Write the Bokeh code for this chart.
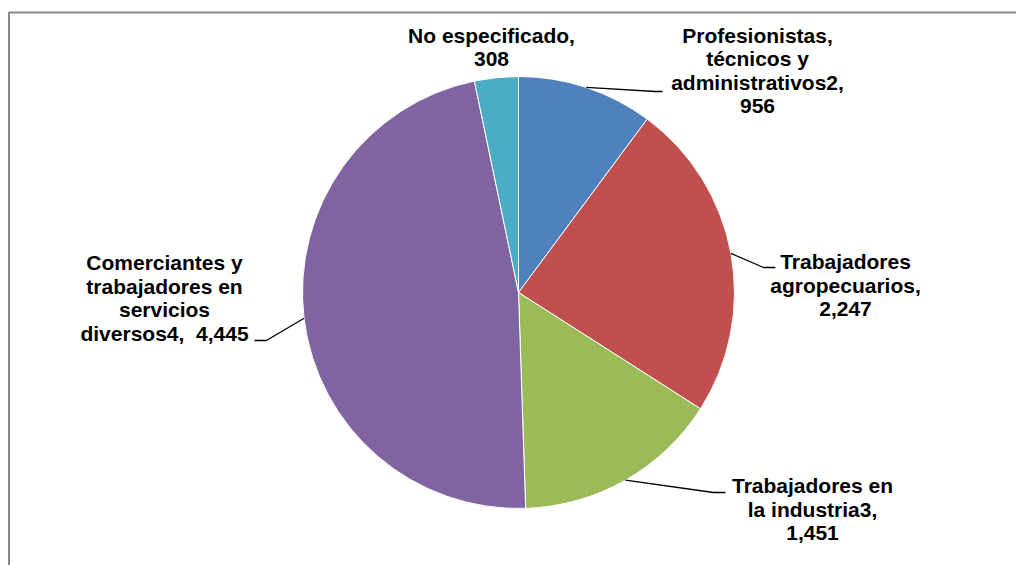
import math
from bokeh.plotting import figure
from bokeh.models import Range1d, ColumnDataSource
from bokeh.core.properties import value
from bokeh.embed import file_html
from bokeh.resources import INLINE

# ---- data ----
categories = [
    "Profesionistas, técnicos y administrativos2",
    "Trabajadores agropecuarios",
    "Trabajadores en la industria3",
    "Comerciantes y trabajadores en servicios diversos4",
    "No especificado",
]
values = [956, 2247, 1451, 4445, 308]
colors = ["#4F81BD", "#C0504D", "#9BBB59", "#8064A2", "#4BACC6"]
# label text (line breaks as in the original); {v} is filled with the value
label_templates = [
    "Profesionistas,\ntécnicos y\nadministrativos2,\n{v}",
    "Trabajadores\nagropecuarios,\n{v}",
    "Trabajadores en\nla industria3,\n{v}",
    "Comerciantes y\ntrabajadores en\nservicios\ndiversos4, \u00a0{v}",
    "No especificado,\n{v}",
]

# ---- layout (screen pixels) ----
W, H = 1016, 565


def dx(sx):
    return sx


def dy(sy):
    return H - sy


CX, CY, R = 518, 292, 216
label_anchor = [(757, 34.5), (845, 261), (812, 485), (164, 262), (491, 34.5)]
line_step = 23.7
leader_pts = [
    [(655, 91), (662, 91)],
    [(763, 267), (775, 267)],
    [(713, 492), (725, 492)],
    [(266, 340), (254, 340)],
    None,
]

p = figure(width=W, height=H, x_range=Range1d(0, W), y_range=Range1d(0, H),
           output_backend="svg", toolbar_location=None, min_border=0,
           x_axis_type=None, y_axis_type=None)
p.grid.visible = False
p.outline_line_color = None
p.background_fill_color = "white"
p.border_fill_color = "white"

# ---- wedges ----
total = float(sum(values))
starts, ends, mids = [], [], []
cum = 0.0
for v in values:
    a0 = math.pi / 2 - 2 * math.pi * cum / total
    cum += v
    a1 = math.pi / 2 - 2 * math.pi * cum / total
    starts.append(a0)
    ends.append(a1)
    mids.append((a0 + a1) / 2)

src = ColumnDataSource(dict(start=starts, end=ends, color=colors,
                            cat=categories, val=values))
p.wedge(x=dx(CX), y=dy(CY), radius=R, start_angle="start", end_angle="end",
        direction="clock", fill_color="color", line_color="white",
        line_width=1, source=src)

# ---- leader lines ----
for i, pts in enumerate(leader_pts):
    if pts is None:
        continue
    sx0 = CX + R * math.cos(mids[i])
    sy0 = CY - R * math.sin(mids[i])
    xs = [dx(sx0)] + [dx(q[0]) for q in pts]
    ys = [dy(sy0)] + [dy(q[1]) for q in pts]
    p.line(xs, ys, line_color="black", line_width=1.3)

# ---- labels ----
tx, ty, tt = [], [], []
for i, tpl in enumerate(label_templates):
    lines = tpl.format(v=f"{values[i]:,}").split("\n")
    ax, ay = label_anchor[i]
    for j, ln in enumerate(lines):
        tx.append(dx(ax))
        ty.append(dy(ay + j * line_step))
        tt.append(ln)
p.text(x=tx, y=ty, text=tt, text_align="center", text_baseline="alphabetic",
       text_font=value("Liberation Sans"), text_font_style="bold",
       text_font_size="21px", text_color="black")

# ---- chart border (top and left visible) ----
p.line([dx(8.5), dx(8.5), dx(W)], [dy(H), dy(12), dy(12)],
       line_color="#868686", line_width=2)

open("out.html", "w").write(file_html(p, INLINE))
